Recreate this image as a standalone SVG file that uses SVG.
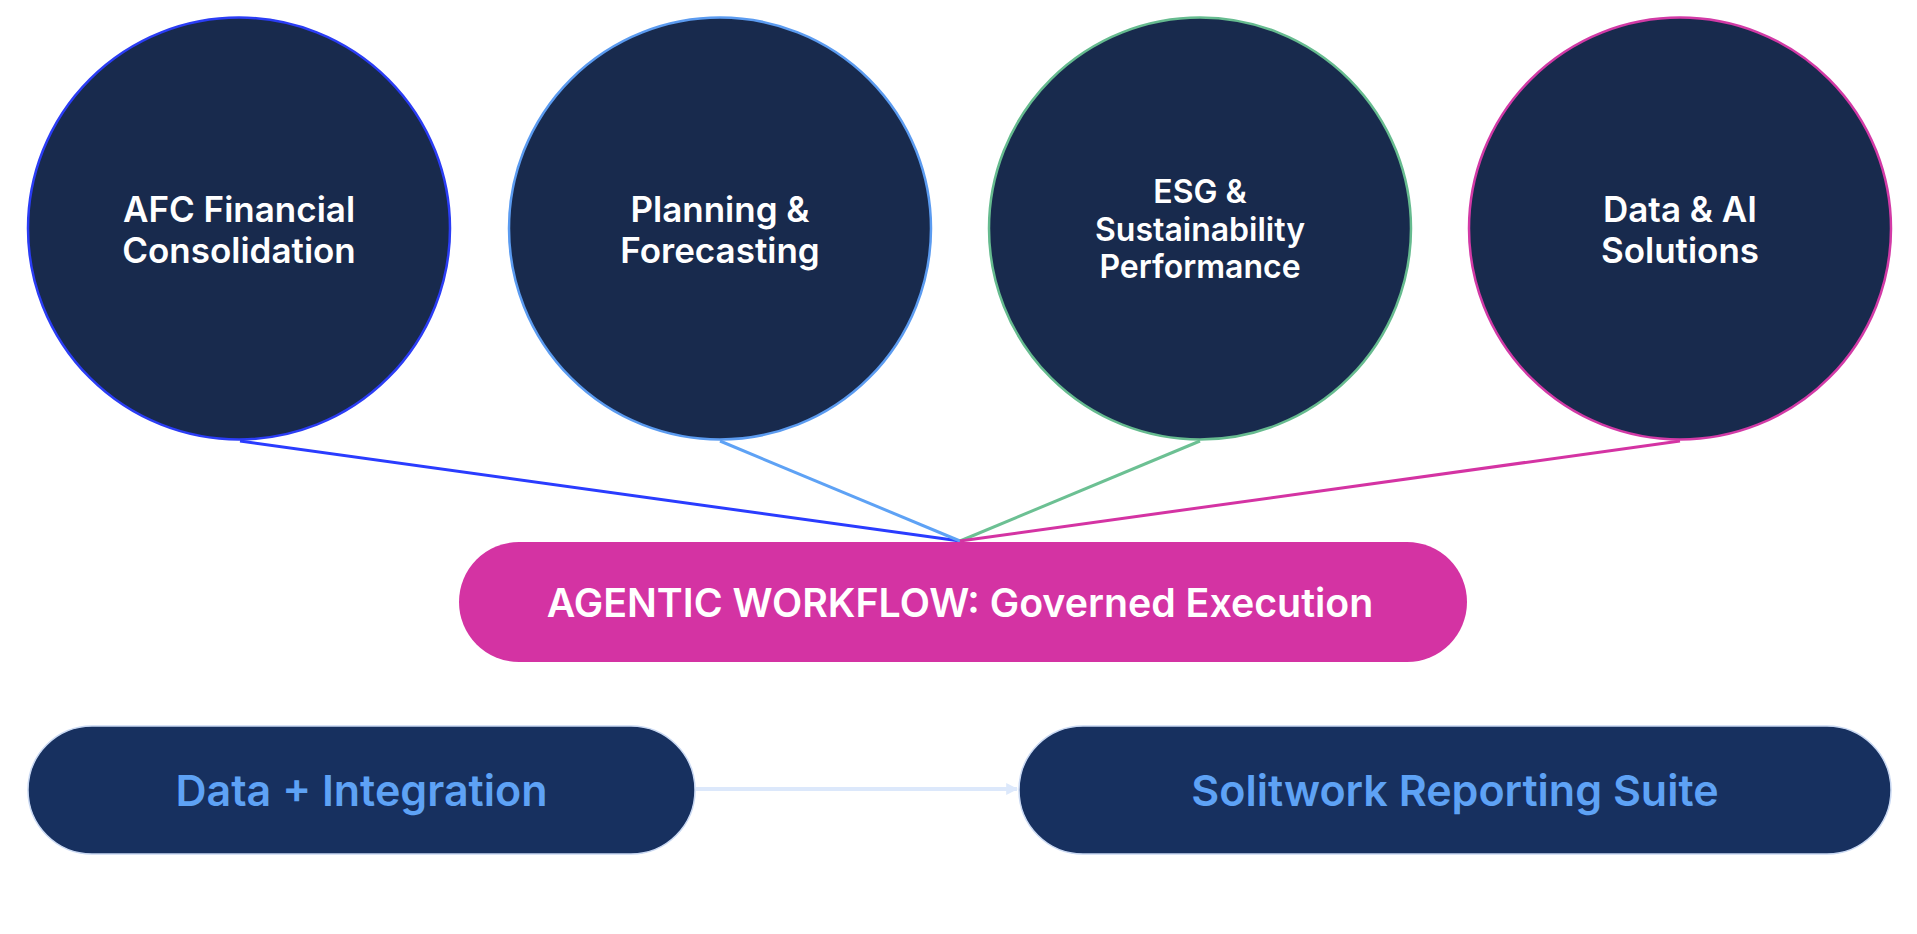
<svg xmlns="http://www.w3.org/2000/svg" width="1917" height="934" viewBox="0 0 1917 934">
<defs>
<style>
.circ{fill:#182a4d;stroke-width:2.5}
.ct{font-family:Inter,"Liberation Sans",sans-serif;font-weight:600;fill:#ffffff;text-anchor:middle}
.conn{fill:none;stroke-width:3}
.pill{fill:#17305f;stroke:#c9d8f2;stroke-width:1.5}
.pt{font-family:Inter,"Liberation Sans",sans-serif;font-weight:600;fill:#5ea2f5;text-anchor:middle;font-size:43px}
</style>
<marker id="arr" viewBox="0 0 10 10" refX="9" refY="5" markerWidth="3" markerHeight="3" orient="auto">
<path d="M0,0 L10,5 L0,10 z" fill="#dce8fb"/>
</marker>
</defs>
<rect width="1917" height="934" fill="#ffffff"/>
<g id="connectors">
<line class="conn" x1="240" y1="441" x2="960" y2="541" stroke="#2a3cff"/>
<line class="conn" x1="720" y1="441" x2="960" y2="541" stroke="#5ea2f5" stroke-width="2.5"/>
<line class="conn" x1="1200" y1="441" x2="960" y2="541" stroke="#6cc093" stroke-width="2.5"/>
<line class="conn" x1="1680" y1="441" x2="960" y2="541" stroke="#d433a3" stroke-width="2.5"/>
<line x1="696" y1="789" x2="1017" y2="789" stroke="#dce8fb" stroke-width="4" marker-end="url(#arr)"/>
</g>
<g id="afc">
<circle class="circ" cx="239" cy="228.5" r="211" stroke="#2b3df5"/>
<text class="ct" x="239" font-size="35"><tspan x="239" y="222">AFC Financial</tspan><tspan x="239" y="263">Consolidation</tspan></text>
</g>
<g id="planning">
<circle class="circ" cx="720" cy="228.5" r="211" stroke="#5b9bf0"/>
<text class="ct" x="720" font-size="35"><tspan x="720" y="222">Planning &amp;</tspan><tspan x="720" y="263">Forecasting</tspan></text>
</g>
<g id="esg">
<circle class="circ" cx="1200" cy="228.5" r="211" stroke="#66bb8f"/>
<text class="ct" x="1200" font-size="32"><tspan x="1200" y="203">ESG &amp;</tspan><tspan x="1200" y="241">Sustainability</tspan><tspan x="1200" y="278">Performance</tspan></text>
</g>
<g id="data-ai">
<circle class="circ" cx="1680" cy="228.5" r="211" stroke="#d23aa6"/>
<text class="ct" x="1680" font-size="35"><tspan x="1680" y="222">Data &amp; AI</tspan><tspan x="1680" y="263">Solutions</tspan></text>
</g>
<g id="agentic">
<rect x="459" y="542" width="1008" height="120" rx="60" fill="#d433a3"/>
<text class="ct" x="960" y="617" font-size="39.3">AGENTIC WORKFLOW: Governed Execution</text>
</g>
<g id="data-integration">
<rect class="pill" x="28" y="726" width="667" height="128" rx="64"/>
<text class="pt" x="361.5" y="806">Data + Integration</text>
</g>
<g id="reporting">
<rect class="pill" x="1019" y="726" width="872" height="128" rx="64"/>
<text class="pt" x="1455" y="806">Solitwork Reporting Suite</text>
</g>
</svg>
